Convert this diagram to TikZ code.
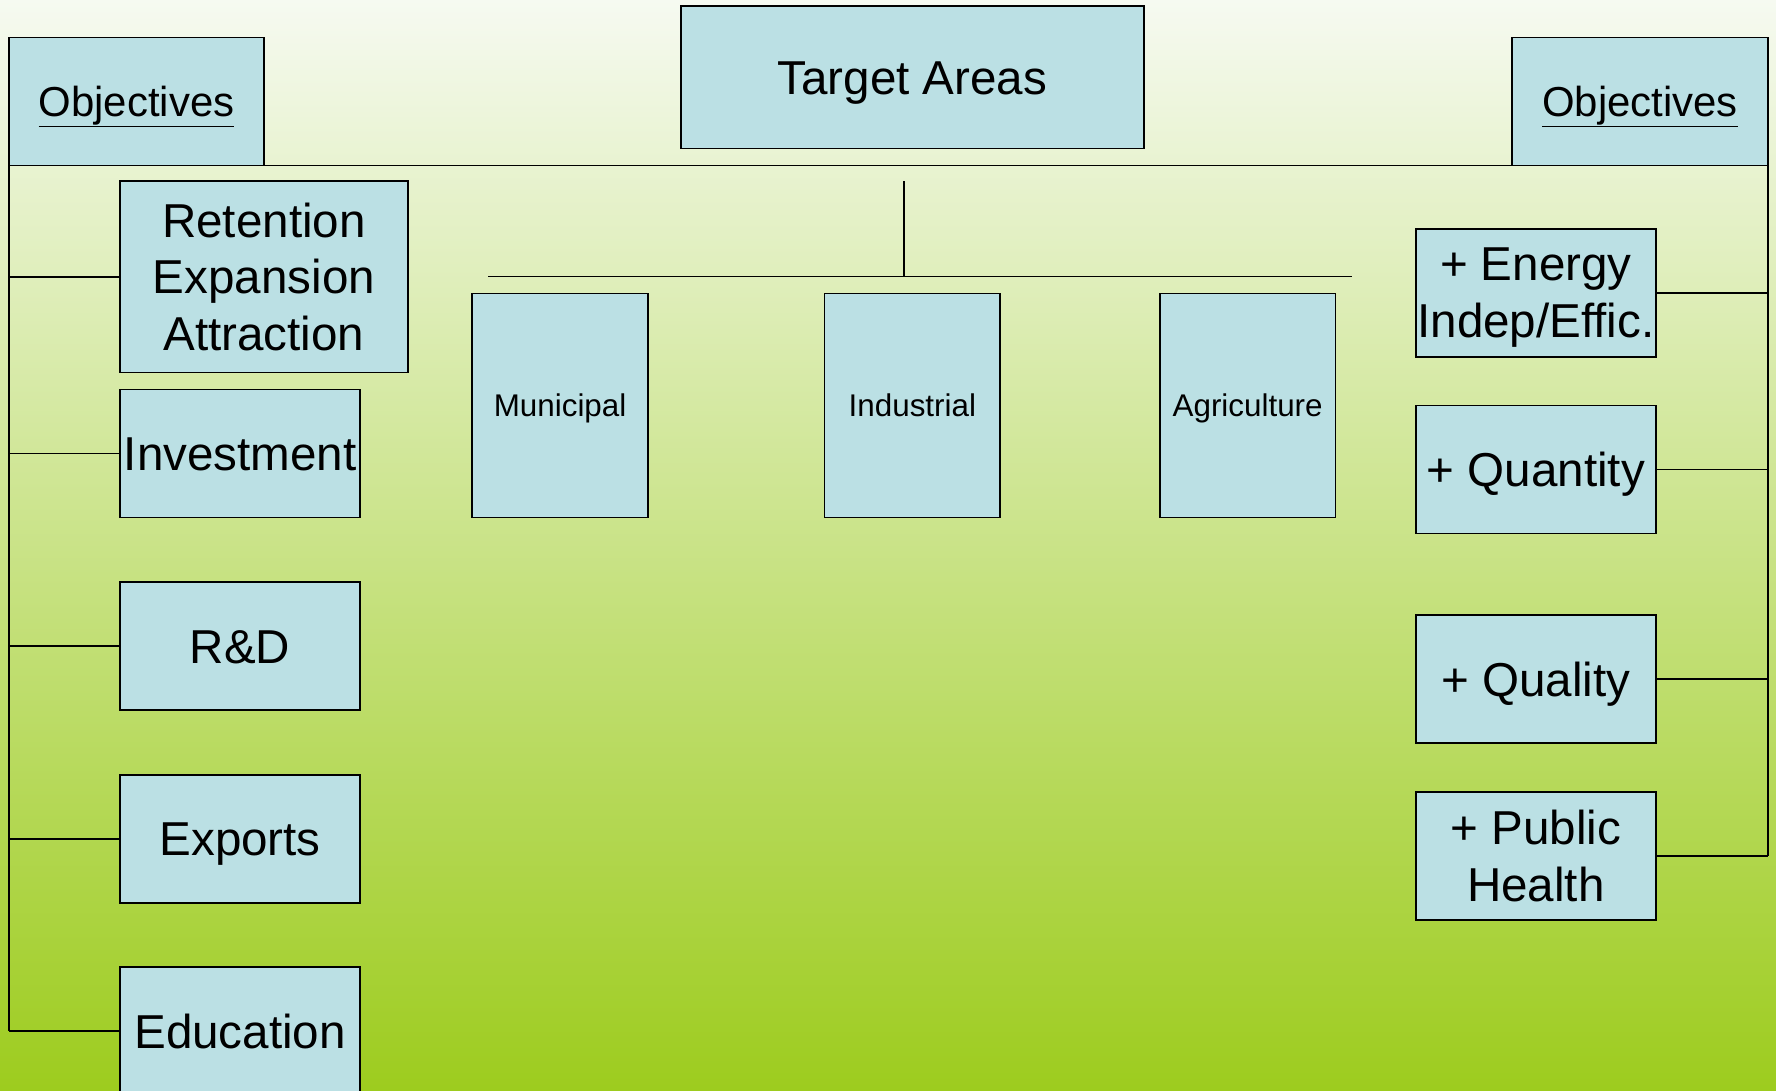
\documentclass[tikz,border=0pt]{standalone}
\usepackage{fontspec}
\setmainfont{Liberation Sans}
\usetikzlibrary{positioning}
\definecolor{tlogora}{RGB}{246,250,241}
\definecolor{tlosrodek}{RGB}{192,223,148}
\definecolor{tlodol}{RGB}{157,204,30}
\definecolor{pudelko}{RGB}{187,224,228}
\newcommand{\duzy}{\fontsize{42}{50}\selectfont}
\newcommand{\sredni}{\fontsize{37}{44}\selectfont}
\newcommand{\maly}{\fontsize{27.7}{33}\selectfont}
\tikzset{
    %Define style for boxes
    kafel/.style={
           rectangle,
           draw=black, line width=1.5pt,
           fill=pudelko,
           inner sep=0pt, outer sep=0pt,
           align=center,
           font=\duzy},
    % one line of text, centred on the capitals
    jedna/.style={
           text height=30pt,
           text depth=0pt},
    boczny/.style={
           kafel,
           minimum width=212,
           minimum height=113},
    naglowek/.style={
           kafel,
           font=\sredni,
           text height=26.5pt,
           text depth=0pt,
           minimum height=113},
    obszar/.style={
           kafel,
           font=\maly,
           text height=19.8pt,
           text depth=0pt,
           minimum width=155,
           minimum height=198},
    % Define line style
    lacz/.style={
           line width=1.5pt}
}
\begin{document}
\begin{tikzpicture}[x=1pt,y=-1pt]
\useasboundingbox (0,0) rectangle (1568,963);
\clip (0,0) rectangle (1568,963);
\shade[top color=tlogora, middle color=tlosrodek, bottom color=tlodol] (0,0) rectangle (1568,963);

% headers
\node[naglowek, minimum width=225] (celel) at (120.5,89.5) {\underline{Objectives}};
\node[kafel, jedna, minimum width=409, minimum height=126] (cel) at (805.5,68) {Target Areas};
\node[naglowek, minimum width=226] (celep) at (1448,89.5) {\underline{Objectives}};
\draw[lacz] (celel.south west) -- (celep.south east);

% left objectives
\node[kafel, minimum width=254, minimum height=169] (ret) at (233,244.5) {Retention\\Expansion\\Attraction}
  edge[lacz] (celel.south west |- ret.west);
\node[boczny, jedna, below right=15pt and 0pt of ret.south west] (inv) {Investment}
  edge[lacz] (celel.south west |- inv.west);
\node[boczny, jedna, below=57pt of inv] (rd) {R\&D}
  edge[lacz] (celel.south west |- rd.west);
\node[boczny, jedna, below=57pt of rd] (exp) {Exports}
  edge[lacz] (celel.south west |- exp.west);
\node[boczny, jedna, below=57pt of exp] (edu) {Education}
  edge[lacz] (celel.south west |- edu.west);
\draw[lacz] (celel.south west) -- (celel.south west |- edu.west);

% target areas
\coordinate (widly) at (798,160);
\coordinate (szynal) at (431,244);
\coordinate (szynap) at (1194,244);
\draw[lacz] (widly) -- (widly |- szynal);
\draw[lacz] (szynal) -- (szynap);
\node[obszar] (mun) at (494.5,358) {Municipal};
\node[obszar, right=156pt of mun] (ind) {Industrial};
\node[obszar, right=141pt of ind] (agr) {Agriculture};

% right objectives
\node[boczny] (ene) at (1356,258.5) {+ Energy\\\smash{Indep/Effic.}}
  edge[lacz] (celep.south east |- ene.east);
\node[boczny, jedna, below=43pt of ene] (ilo) {+ Quantity}
  edge[lacz] (celep.south east |- ilo.east);
\node[boczny, jedna, below=72pt of ilo] (jak) {+ Quality}
  edge[lacz] (celep.south east |- jak.east);
\node[boczny, below=43pt of jak] (zdr) {+ Public\\Health}
  edge[lacz] (celep.south east |- zdr.east);
\draw[lacz] (celep.south east) -- (celep.south east |- zdr.east);
\end{tikzpicture}
\end{document}
